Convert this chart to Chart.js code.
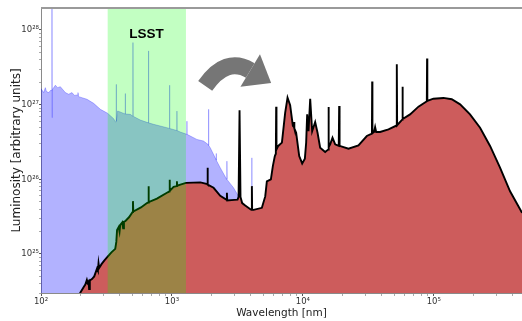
<!DOCTYPE html>
<html>
<head>
<meta charset="utf-8">
<script src="https://cdn.jsdelivr.net/npm/chart.js@4.4.1/dist/chart.umd.min.js"></script>
<style>
  html, body { margin: 0; padding: 0; background: #fff; }
  #wrap { width: 522px; height: 321px; }
</style>
</head>
<body>
<div id="wrap"><canvas id="c"></canvas></div>
<script>
// Reprocessed (dust-obscured) spectrum: wavelength [nm] and luminosity
const redWl = [190, 200, 212, 218, 224, 227, 231, 233, 236, 245, 255, 268, 272, 275, 278, 290, 305, 323,
  345, 369, 376, 381, 392, 398, 403, 418, 424, 430, 440, 470, 501, 504, 507, 580, 645, 660, 663, 666,
  768, 916, 955, 960, 965, 1030, 1087, 1092, 1097, 1160, 1280, 1650, 1865, 1872, 1880, 2080, 2340,
  2615, 2630, 2645, 3000, 3170, 3230, 3285, 3340, 3440, 3630, 4000, 4060, 4080, 4100, 4200, 4865,
  5160, 5310, 5700, 5900, 6110, 6220, 6255, 6290, 6485, 6920, 7330, 7640, 8000, 8390, 8560, 8590,
  8630, 8890, 9380, 9885, 10360, 10600, 10790, 11050, 11380, 11780, 12420, 12950, 13560, 14810,
  15600, 15700, 15800, 16170, 16850, 17660, 18800, 18940, 19080, 22320, 26600, 30800, 33700, 33850,
  34000, 35000, 35650, 36300, 38900, 45100, 51900, 52200, 52500, 57400, 57700, 58000, 65900, 76400,
  88500, 88900, 89300, 99400, 118500, 137200, 158900, 189200, 225800, 269200, 320700, 382600,
  472300, 520000];
const redLum = [2.5e24, 3.05e24, 3.6e24, 3.9e24, 4.5e24, 4.1e24, 4.3e24, 3.4e24, 4.4e24, 4.6e24, 5.0e24,
  6.4e24, 6.0e24, 7.5e24, 6.5e24, 7.3e24, 8.2e24, 9.2e24,
  1.05e25, 1.17e25, 1.45e25, 2.1e25, 2.3e25, 2.0e25, 2.45e25, 2.65e25, 2.2e25, 2.7e25, 2.75e25, 3.1e25,
  3.65e25, 5.1e25, 3.7e25, 4.2e25, 4.8e25, 4.9e25, 8.1e25, 4.95e25,
  5.5e25, 6.6e25, 6.9e25, 9.9e25, 7.0e25, 7.9e25, 8.1e25, 9.4e25, 8.2e25, 8.5e25, 8.95e25, 9.1e25,
  8.6e25, 1.43e26, 8.5e25, 7.7e25, 6.0e25,
  5.3e25, 6.6e25, 5.2e25, 5.3e25, 5.35e25, 5.8e25, 8.4e26, 5.8e25, 4.8e25, 4.45e25, 3.95e25, 3.9e25,
  8.1e25, 3.9e25, 3.9e25, 4.15e25,
  5.9e25, 9.4e25, 1.0e26, 1.5e26, 2.05e26, 2.2e26, 9.4e26, 2.5e26, 2.8e26, 3.1e26, 7.8e26, 1.24e27,
  9.8e26, 5.2e26, 5.0e26, 5.85e26,
  4.8e26, 4.2e26, 2.05e26, 1.63e26, 1.88e26, 3.1e26, 7.4e26, 4.4e26, 1.2e27, 4.4e26, 5.85e26, 4.2e26,
  2.65e26, 2.32e26,
  2.5e26, 9.3e26, 2.7e26, 2.94e26, 3.6e26, 2.94e26, 2.8e26, 9.6e26, 2.8e26, 2.57e26, 2.85e26, 3.8e26,
  4.1e26, 2.04e27,
  4.15e26, 4.3e26, 5.0e26, 4.3e26, 4.3e26, 4.67e26, 5.25e26, 3.48e27, 5.3e26, 6.3e26, 1.73e27, 6.4e26,
  7.4e26, 9.4e26,
  1.11e27, 4.14e27, 1.12e27, 1.2e27, 1.23e27, 1.18e27, 1.01e27, 7.4e26, 4.9e26, 2.8e26, 1.43e26, 6.9e25,
  3.55e25, 2.6e25];

// Intrinsic (unobscured) spectrum
const blueWl = [100, 104.8, 107.9, 110, 114.4, 119.2, 120.6, 121.3, 121.6, 122.3, 128.7, 134, 140.5,
  153.4, 162.6, 172.5, 180, 190, 191.6, 193.9, 224.5, 252.5, 284, 323, 358.7, 371.5, 375, 375.8, 376.6,
  384.8, 415, 439.5, 440.5, 441.5, 481, 503, 504, 505, 573, 662, 663, 664, 724, 916, 958, 960, 962,
  1090, 1092, 1094, 1158, 1300, 1302, 1304, 1552, 1745, 1900, 1905, 1910, 1962, 2142, 2175, 2180,
  2185, 2339, 2620, 2630, 2640, 2956, 3170, 3248, 3260, 4070, 4080, 4090];
const blueLum = [1.64e27, 1.45e27, 1.69e27, 1.5e27, 1.45e27, 1.57e27, 1.55e27, 2.5e28, 6.7e26, 1.6e27,
  1.82e27, 1.69e27, 1.74e27,
  1.45e27, 1.38e27, 1.45e27, 1.33e27, 1.35e27, 1.45e27, 1.28e27, 1.18e27, 1.04e27, 8.66e26, 7.65e26,
  6.49e26, 5.85e26, 5.9e26, 1.87e27, 6.0e26,
  8.22e26, 7.81e26, 7.5e26, 1.41e27, 7.5e26, 7.41e26, 7.0e26, 6.79e27, 7.0e26, 6.23e26, 5.7e26, 5.25e27,
  5.7e26, 5.45e26, 4.91e26, 4.8e26, 1.82e27, 4.8e26,
  4.5e26, 8.2e26, 4.5e26, 4.3e26, 4.0e26, 6.0e26, 4.0e26, 3.42e26, 3.25e26, 2.9e26, 8.66e26, 2.85e26,
  2.65e26, 1.94e26, 1.85e26, 2.22e26,
  1.8e26, 1.43e26, 1.0e26, 1.75e26, 9.9e25, 7.69e25, 6.25e25, 5.5e25, 1e24, 1e24, 1.94e26, 1e24];

// Axis ranges and labelled decades
const xRange = [100, 4.72e5];
const yRange = [3.0e24, 1.97e28];
const xTickExps = [2, 3, 4, 5];
const yTickExps = [24, 25, 26, 27, 28];

// LSST wavelength coverage [nm]
const lsstBand = [323, 1280];
const lsstLabel = { text: 'LSST', wl: 640, lum: 8.8e27 };

// Curved arrow: tail, control point, head base, tip (wavelength / luminosity)
const arrowWl = [1795, 2582, 3963, 5728];
const arrowLum = [1.78e27, 4.48e27, 2.87e27, 1.95e27];

const SUP = { '0': '⁰', '1': '¹', '2': '²', '3': '³', '4': '⁴', '5': '⁵', '6': '⁶', '7': '⁷', '8': '⁸', '9': '⁹', '-': '⁻' };
const powLabel = e => '10' + String(e).split('').map(ch => SUP[ch]).join('');

function logTicks(exps, min, max) {
  const out = [];
  exps.forEach(e => {
    for (let m = 1; m <= 9; m++) {
      const v = m * Math.pow(10, e);
      if (v >= min * 0.9999 && v <= max * 1.0001) out.push({ value: v, major: m === 1 });
    }
  });
  return out;
}
function tickLabel(value) {
  const e = Math.log10(value);
  const r = Math.round(e);
  return Math.abs(e - r) < 1e-6 ? powLabel(r) : '';
}
function isMajorVal(value) {
  const e = Math.log10(value);
  return Math.abs(e - Math.round(e)) < 1e-6;
}

const toPoints = (xs, ys) => xs.map((x, i) => ({ x: x, y: ys[i] }));

const overlays = {
  id: 'overlays',
  afterDatasetsDraw(chart) {
    const { ctx, chartArea: a, scales: { x, y } } = chart;
    ctx.save();
    // LSST band
    const x1 = x.getPixelForValue(lsstBand[0]);
    const x2 = x.getPixelForValue(lsstBand[1]);
    ctx.fillStyle = 'rgba(0, 255, 0, 0.24)';
    ctx.fillRect(x1, a.top, x2 - x1, a.bottom - a.top);

    // band label
    ctx.fillStyle = '#000';
    ctx.font = 'bold 13.5px "Liberation Sans", Arial, sans-serif';
    ctx.textAlign = 'center';
    ctx.textBaseline = 'middle';
    ctx.fillText(lsstLabel.text, x.getPixelForValue(lsstLabel.wl), y.getPixelForValue(lsstLabel.lum));

    // curved arrow
    const p = i => [x.getPixelForValue(arrowWl[i]), y.getPixelForValue(arrowLum[i])];
    const t = p(0), c = p(1), b = p(2), tip = p(3);
    ctx.strokeStyle = '#767676';
    ctx.fillStyle = '#767676';
    ctx.lineWidth = 17;
    ctx.lineCap = 'butt';
    ctx.beginPath();
    ctx.moveTo(t[0], t[1]);
    ctx.quadraticCurveTo(c[0], c[1], b[0], b[1]);
    ctx.stroke();
    const dx = tip[0] - b[0], dy = tip[1] - b[1];
    const len = Math.hypot(dx, dy);
    const nx = -dy / len, ny = dx / len, hw = 19;
    ctx.beginPath();
    ctx.moveTo(b[0] + nx * hw, b[1] + ny * hw);
    ctx.lineTo(tip[0], tip[1]);
    ctx.lineTo(b[0] - nx * hw, b[1] - ny * hw);
    ctx.closePath();
    ctx.fill();

    // top frame line
    ctx.strokeStyle = '#9a9a9a';
    ctx.lineWidth = 2;
    ctx.beginPath();
    ctx.moveTo(a.left, a.top);
    ctx.lineTo(a.right, a.top);
    ctx.stroke();
    ctx.restore();
  }
};

new Chart(document.getElementById('c'), {
  type: 'line',
  data: {
    datasets: [
      {
        label: 'reprocessed',
        data: toPoints(redWl, redLum),
        borderColor: '#000',
        borderWidth: 1.9,
        backgroundColor: '#cd5c5c',
        fill: 'start',
        pointRadius: 0,
        tension: 0,
        order: 0
      },
      {
        label: 'intrinsic',
        data: toPoints(blueWl, blueLum),
        borderColor: 'rgba(0, 0, 255, 0.25)',
        borderWidth: 1,
        backgroundColor: 'rgba(0, 0, 255, 0.3)',
        fill: 'start',
        pointRadius: 0,
        tension: 0,
        order: 1
      }
    ]
  },
  options: {
    responsive: true,
    maintainAspectRatio: false,
    animation: false,
    devicePixelRatio: 1,
    layout: { padding: { top: 8, right: 0, bottom: 0, left: 0 } },
    plugins: { legend: { display: false }, tooltip: { enabled: false } },
    scales: {
      x: {
        type: 'logarithmic',
        min: xRange[0],
        max: xRange[1],
        afterFit: s => { s.height = 28; },
        afterBuildTicks: s => { s.ticks = logTicks(xTickExps, xRange[0], xRange[1]); },
        ticks: {
          autoSkip: false, maxRotation: 0, padding: 1,
          font: { family: 'DejaVu Sans', size: 8.5 }, color: '#333',
          callback: v => tickLabel(v)
        },
        grid: {
          drawOnChartArea: false, drawTicks: true, tickLength: 3,
          tickColor: ctx => (ctx.tick && isMajorVal(ctx.tick.value)) ? '#555' : '#aaa'
        },
        border: { display: true, color: '#8a8a8a', width: 1 },
        title: {
          display: true, text: 'Wavelength [nm]',
          font: { family: 'DejaVu Sans', size: 10.5 }, color: '#222',
          padding: { top: 0, bottom: 1.7 }
        }
      },
      y: {
        type: 'logarithmic',
        min: yRange[0],
        max: yRange[1],
        afterFit: s => { s.width = 41; },
        afterBuildTicks: s => { s.ticks = logTicks(yTickExps, yRange[0], yRange[1]); },
        ticks: {
          autoSkip: false, padding: 0,
          font: { family: 'DejaVu Sans', size: 8.5 }, color: '#333',
          callback: v => tickLabel(v)
        },
        grid: {
          drawOnChartArea: false, drawTicks: true, tickLength: 2,
          tickColor: ctx => (ctx.tick && isMajorVal(ctx.tick.value)) ? '#555' : '#aaa'
        },
        border: { display: true, color: '#8a8a8a', width: 1 },
        title: {
          display: true, text: 'Luminosity [arbitrary units]',
          font: { family: 'DejaVu Sans', size: 12 }, color: '#222',
          padding: { top: 10, bottom: 0 }
        }
      }
    }
  },
  plugins: [overlays]
});
</script>
</body>
</html>
